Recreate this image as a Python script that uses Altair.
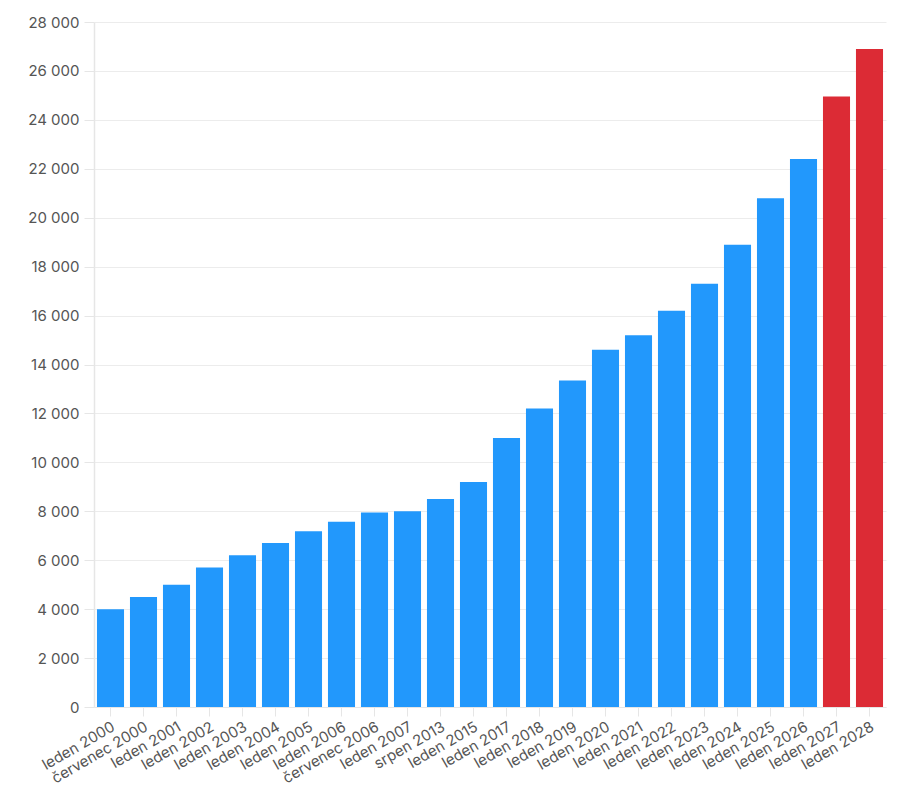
import altair as alt
import pandas as pd

labels = ["leden 2000", "červenec 2000", "leden 2001", "leden 2002", "leden 2003",
          "leden 2004", "leden 2005", "leden 2006", "červenec 2006", "leden 2007",
          "srpen 2013", "leden 2015", "leden 2017", "leden 2018", "leden 2019",
          "leden 2020", "leden 2021", "leden 2022", "leden 2023", "leden 2024",
          "leden 2025", "leden 2026", "leden 2027", "leden 2028"]
values = [4000, 4500, 5000, 5700, 6200, 6700, 7185, 7570, 7955, 8000,
          8500, 9200, 11000, 12200, 13350, 14600, 15200, 16200, 17300, 18900,
          20800, 22400, 24950, 26900]
kinds = ["actual"] * 22 + ["projected"] * 2

df = pd.DataFrame({"label": labels, "value": values, "kind": kinds})

chart = alt.Chart(df).mark_bar().encode(
    x=alt.X("label:N", sort=None, title=None,
            scale=alt.Scale(paddingInner=0.18, paddingOuter=0.09),
            axis=alt.Axis(labelAngle=-30, labelAlign="right", labelBaseline="middle",
                          tickSize=9, tickColor="#e6e6e6", domainColor="#e6e6e6",
                          labelPadding=9, labelOffset=3, labelFontSize=15,
                          labelColor="#555555", labelFont="Inter")),
    y=alt.Y("value:Q", title=None,
            scale=alt.Scale(domain=[0, 28000], nice=False),
            axis=alt.Axis(values=list(range(0, 28001, 2000)),
                          labelExpr="replace(format(datum.value, ','), ',', ' ')",
                          tickSize=10, tickColor="#e6e6e6", domainColor="#e6e6e6",
                          domainWidth=1.5, gridColor="#ececec", labelPadding=5,
                          labelFontSize=15, labelColor="#555555", labelFont="Inter")),
    color=alt.Color("kind:N", legend=None,
                    scale=alt.Scale(domain=["actual", "projected"],
                                    range=["#2298fc", "#dc2b35"])),
).properties(
    width=792, height=685,
    padding={"left": 19, "top": 7, "right": 10, "bottom": 5},
).configure_view(stroke=None)

chart.save("out.html", embed_options={"renderer": "svg", "actions": False})
